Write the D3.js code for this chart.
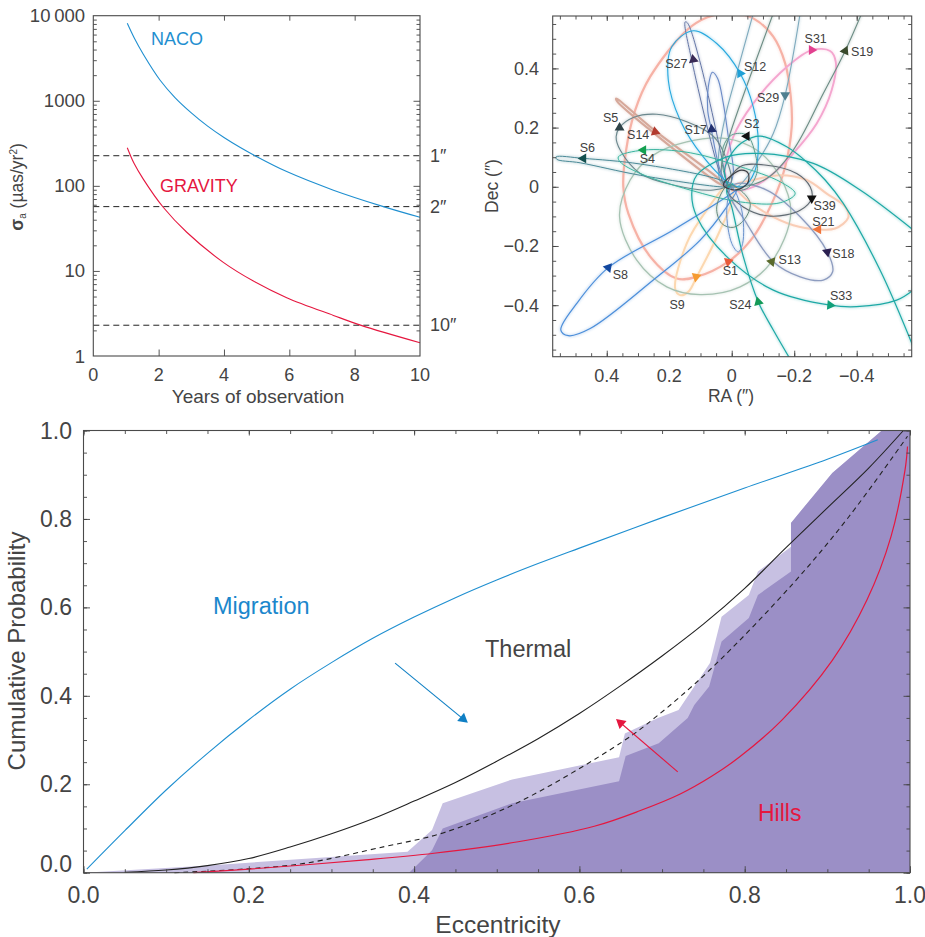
<!DOCTYPE html>
<html>
<head>
<script src="https://d3js.org/d3.v7.min.js" charset="utf-8"></script>
<style>
    body { margin: 0; background: #fff; }
    text { font-family: "Liberation Sans", sans-serif; fill: #444; }
</style>
</head>
<body>
<script>
    // top left panel: years, sigma
    var nacoYears = [1.04, 1.25, 1.53, 2.04, 2.5, 3, 3.5, 4, 4.5, 4.95, 5.92, 7.35, 8.88, 10];
    var nacoSigma = [8130, 5500, 3520, 1754, 1091, 721, 503, 370, 282, 226, 147, 89, 57, 42.7];
    var gravityYears = [1.04, 1.25, 1.53, 2.14, 2.86, 3.98, 4.9, 5.92, 7.35, 8.2, 10];
    var gravitySigma = [281, 183, 120, 56, 28.5, 12.6, 7.6, 4.85, 3.0, 2.29, 1.43];
    var radiusLevels = [226, 57, 2.3];
    var radiusLabels = ["1\u2033", "2\u2033", "10\u2033"];
    var sigmaTicks = [1, 10, 100, 1000, 10000];
    var sigmaTickLabels = ["1", "10", "100", "1000", "10\u2009000"];
    var yearTicks = [0, 2, 4, 6, 8, 10];

    // top right panel: orbits as [RA, Dec]
    var orbitS8 = [[0,-.023],[.187,-.146],[.395,-.273],[.496,-.394],[.547,-.484],[.523,-.503],[.453,-.479],[.251,-.315],[.101,-.18],[.016,-.068],[-.016,-.011]];
    var orbitS1 = [[.176,-.31],[.112,-.304],[.011,-.253],[-.069,-.169],[-.133,-.045],[-.171,.068],[-.192,.203],[-.189,.304],[-.171,.417],[-.133,.507],[-.069,.569],[.005,.588],[.08,.572],[.144,.529],[.261,.372],[.309,.259],[.338,.124],[.347,0],[.331,-.09],[.261,-.236]];
    var orbitS14 = [[.37,.298],[.245,.189],[.037,.023],[.02,.003],[.037,.009],[.245,.178],[.366,.288]];
    var orbitS27 = [[.149,.557],[.128,.428],[.032,.028],[.016,0],[.021,.039],[.103,.428],[.142,.554]];
    var orbitS17 = [[.062,.387],[.075,.338],[.077,.259],[.066,.197],[.037,.056],[.011,.003],[-.005,.045],[.011,.169],[.027,.282],[.045,.366]];
    var orbitS12 = [[.123,.527],[.048,.484],[-.027,.383],[-.069,.27],[-.085,.146],[-.075,.056],[-.037,0],[.005,.011],[.091,.101],[.165,.225],[.203,.36],[.192,.473]];
    var orbitS2 = [[-.048,.175],[-.075,.113],[-.08,.045],[-.048,-.006],[0,-.006],[.027,.056],[.027,.135],[0,.175]];
    var orbitS5 = [[.359,.2],[.315,.234],[.24,.245],[.144,.22],[.059,.171],[.016,.09],[.003,.011],[.059,-.011],[.187,.006],[.293,.045],[.357,.124],[.37,.169]];
    var orbitS6 = [[.562,.101],[.475,.096],[.293,.077],[.037,.023],[0,0],[.037,0],[.293,.039],[.485,.081],[.56,.093]];
    var orbitS4 = [[.363,.101],[.283,.124],[.133,.115],[-.027,.068],[-.155,.017],[-.203,-.023],[-.155,-.054],[-.027,-.051],[.133,-.011],[.293,.045],[.357,.084]];
    var orbitS13 = [[.359,-.101],[.325,.023],[.251,.107],[.144,.152],[.016,.163],[-.08,.124],[-.155,.034],[-.189,-.09],[-.128,-.253],[-.027,-.338],[.101,-.364],[.208,-.338],[.304,-.248]];
    var orbitS9 = [[.181,-.344],[.165,-.366],[.139,-.355],[.112,-.304],[.037,-.146],[-.005,-.023],[.016,0],[.08,-.079],[.144,-.191]];
    var orbitS24 = [[-.189,-.586],[-.133,-.484],[-.085,-.389],[-.037,-.236],[0,-.068],[.016,-.011],[-.005,.011]];
    var orbitS33 = [[-.587,-.344],[-.528,-.383],[-.4,-.405],[-.315,-.4],[-.133,-.349],[.016,-.236],[.112,-.101],[.128,-.023],[.112,.039],[.016,.101],[-.08,.113],[-.261,.079],[-.411,-.011],[-.581,-.146]];
    var orbitOuter = [[.011,0],[.023,.056],[0,.113],[-.037,.152],[-.091,.171],[-.176,.135],[-.24,.084],[-.299,.023],[-.357,-.056],[-.475,-.282],[-.581,-.541]];
    var orbitS19 = [[-.416,.586],[-.363,.459],[-.293,.315],[-.197,.124],[-.112,.028],[-.027,0],[.027,.011],[.032,.079],[.005,.18],[-.133,.586]];
    var orbitS29 = [[-.219,.586],[-.171,.31],[-.133,.18],[-.085,.09],[-.016,0],[.032,.011],[.043,.09],[.021,.236],[-.016,.383],[-.069,.586]];
    var orbitS31 = [[-.256,.462],[-.315,.459],[-.333,.422],[-.32,.327],[-.272,.214],[-.197,.113],[-.133,.045],[-.069,0],[-.005,-.011],[.021,.045],[-.005,.169],[-.069,.282],[-.176,.405]];
    var orbitS21 = [[-.027,-.023],[-.112,-.09],[-.197,-.13],[-.277,-.144],[-.331,-.141],[-.373,-.104],[-.363,-.068],[-.304,-.023],[-.24,.023],[-.155,.039],[-.069,.023],[-.011,.006]];
    var orbitS18 = [[-.306,-.22],[-.323,-.287],[-.293,-.315],[-.219,-.304],[-.133,-.253],[-.048,-.124],[.011,-.011],[-.016,.011],[-.112,-.011],[-.219,-.101]];
    var orbitS39 = [[-.256,-.039],[-.219,-.079],[-.123,-.099],[-.037,-.068],[.016,-.006],[-.027,.068],[-.112,.073],[-.208,.045],[-.251,0]];
    var orbitInnerA = [[.011,.006],[.048,-.068],[.032,-.124],[-.005,-.137],[-.043,-.107],[-.059,-.056],[-.027,-.011]];
    var orbitInnerB = [[.027,.006],[0,.039],[-.032,.056],[-.053,.045],[-.05,.011],[-.011,-.011]];
    var orbitInnerC = [[0,0],[-.032,-.079],[-.035,-.191],[-.021,-.22],[0,-.191],[.016,-.079]];

    var starNames = ["S31","S19","S27","S12","S29","S5","S14","S17","S2","S6","S4","S8","S1","S9","S13","S24","S33","S18","S21","S39"];
    var starRA  = [-.256,-.363,.123,-.027,-.171,.359,.245,.064,-.048,.475,.283,.395,.011,.114,-.128,-.085,-.315,-.306,-.277,-.256];
    var starDec = [.462,.459,.43,.383,.31,.2,.186,.194,.171,.096,.124,-.273,-.253,-.304,-.253,-.389,-.4,-.22,-.144,-.039];
    var raTicks = [0.4, 0.2, 0, -0.2, -0.4];
    var decTicks = [-0.4, -0.2, 0, 0.2, 0.4];

    // bottom panel: eccentricity, cumulative probability
    var migrationE = [.004,.05,.1,.15,.2,.25,.3,.35,.4,.45,.5,.55,.6,.7,.8,.9,.961];
    var migrationP = [.008,.095,.187,.27,.346,.415,.475,.53,.578,.622,.662,.699,.734,.803,.87,.935,.979];
    var thermalE = [.05,.1,.15,.2,.25,.3,.35,.4,.45,.5,.55,.6,.65,.7,.75,.8,.85,.9,.95,.992];
    var thermalP = [.001,.006,.016,.032,.058,.088,.122,.162,.204,.252,.303,.36,.423,.49,.562,.643,.735,.825,.915,1];
    var dashedE = [.11,.2,.267,.364,.435,.527,.652,.691,.758,.859,.926,.997];
    var dashedP = [0,.009,.021,.059,.09,.16,.296,.35,.459,.655,.805,.987];
    var hillsE = [.133,.2,.341,.424,.526,.618,.673,.722,.76,.794,.845,.906,.948,.977,.994,.997];
    var hillsP = [0,.008,.029,.044,.07,.105,.14,.178,.218,.262,.345,.48,.617,.76,.911,.964];
    var lightE = [0,.156,.392,.4217,.4346,.5187,.648,.655,.695,.72,.758,.772,.805,.816,.856,.856,.906,.966,1,1];
    var lightP = [0,.017,.0475,.0965,.157,.211,.261,.315,.35,.368,.474,.579,.628,.681,.737,.791,.904,1,1,0];
    var darkE = [.394,.4217,.4346,.5187,.648,.656,.696,.731,.739,.757,.772,.805,.816,.856,.856,.906,.966,1,1];
    var darkP = [0,.051,.1,.157,.207,.264,.293,.35,.379,.421,.523,.576,.628,.681,.791,.904,1,1,0];
    var migrationArrow = [[.377,.474],[.465,.339]];
    var hillsArrow = [[.719,.228],[.6443,.3477]];
    var unitTicks = [0, 0.2, 0.4, 0.6, 0.8, 1];

    var svg = d3.select("body").append("svg").attr("width", 925).attr("height", 937);

    var defs = svg.append("defs");
    defs.append("filter").attr("id", "soft").append("feGaussianBlur").attr("stdDeviation", 0.4);
    defs.append("filter").attr("id", "softer").append("feGaussianBlur").attr("stdDeviation", 1.2);
    defs.append("clipPath").attr("id", "orbitClip").append("rect")
        .attr("x", 553).attr("y", 16).attr("width", 358.7).attr("height", 340.7);

    var INK = "#444", BLUE = "#1f8fd0", RED = "#e5173f";

    function pair(xs, ys) { return xs.map(function(v, i) { return [v, ys[i]]; }); }
    function range(a, b, step) {
        var out = [];
        for (var i = 0; a + i * step <= b + 1e-9; i++) out.push(+(a + i * step).toFixed(4));
        return out;
    }

    // ticks point inwards on all four sides
    function ticks(x, y, xMinor, xMajor, yMinor, yMajor, lenMinor, lenMajor) {
        var x0 = x.range()[0], x1 = x.range()[1], y0 = y.range()[0], y1 = y.range()[1];
        var g = svg.append("g");
        function place(axis, tx, ty) {
            var a = g.append("g").attr("transform", "translate(" + tx + "," + ty + ")")
                .call(axis.tickFormat(""));
            a.select(".domain").remove();
            a.selectAll("line").attr("stroke", "#444").attr("stroke-width", 0.9);
        }
        [[xMinor, lenMinor], [xMajor, lenMajor]].forEach(function(s) {
            place(d3.axisBottom(x).tickValues(s[0]).tickSize(-s[1]), 0, y0);
            place(d3.axisTop(x).tickValues(s[0]).tickSize(-Math.min(s[1], 5)), 0, y1);
        });
        [[yMinor, lenMinor], [yMajor, lenMajor]].forEach(function(s) {
            place(d3.axisLeft(y).tickValues(s[0]).tickSize(-s[1]), x0, 0);
            place(d3.axisRight(y).tickValues(s[0]).tickSize(-s[1]), x1, 0);
        });
        g.append("rect").attr("x", Math.min(x0, x1)).attr("y", y1)
            .attr("width", Math.abs(x1 - x0)).attr("height", y0 - y1)
            .attr("fill", "none").attr("stroke", "#4a4a4a").attr("stroke-width", 1.1);
    }

    function label(x, y, str, size, anchor, colour) {
        return svg.append("text").attr("x", x).attr("y", y).text(str)
            .attr("font-size", size).attr("text-anchor", anchor || "start")
            .style("fill", colour || INK);
    }

    //---- top left
    var xYears = d3.scaleLinear().domain([0, 10]).range([93.3, 420]);
    var ySigma = d3.scaleLog().domain([1, 10000]).range([356, 15.7]);
    var lineYears = d3.line().x(function(d) { return xYears(d[0]); })
        .y(function(d) { return ySigma(d[1]); }).curve(d3.curveCatmullRom.alpha(0.5));

    radiusLevels.forEach(function(v, i) {
        svg.append("line").attr("x1", xYears(0)).attr("x2", xYears(10))
            .attr("y1", ySigma(v)).attr("y2", ySigma(v))
            .attr("stroke", "#222").attr("stroke-width", 1).attr("stroke-dasharray", "6,4");
        label(xYears(10) + 10, ySigma(v) + 6, radiusLabels[i], 18);
    });
    svg.append("path").attr("d", lineYears(pair(nacoYears, nacoSigma))).attr("fill", "none").attr("stroke", BLUE).attr("stroke-width", 1.1);
    svg.append("path").attr("d", lineYears(pair(gravityYears, gravitySigma))).attr("fill", "none").attr("stroke", RED).attr("stroke-width", 1.1);

    var sigmaMinor = [];
    [1, 10, 100, 1000].forEach(function(k) { d3.range(2, 10).forEach(function(m) { sigmaMinor.push(k * m); }); });
    ticks(xYears, ySigma, [], yearTicks.slice(1, -1), sigmaMinor, sigmaTicks.slice(1, -1), 3.5, 6.5);

    sigmaTicks.forEach(function(v, i) { label(85, ySigma(v) + 6.5, sigmaTickLabels[i], 18.5, "end"); });
    yearTicks.forEach(function(v) { label(xYears(v), 380.5, v, 18, "middle"); });
    label(258, 403, "Years of observation", 19, "middle");
    label(151, 45, "NACO", 18, "start", BLUE);
    label(160, 191.7, "GRAVITY", 18, "start", RED);

    var sigmaTitle = svg.append("text").attr("transform", "translate(23,187) rotate(-90)")
        .attr("text-anchor", "middle").attr("font-size", 17.5);
    sigmaTitle.append("tspan").text("\u03c3").attr("font-weight", "bold");
    sigmaTitle.append("tspan").text("a").attr("font-size", 10).attr("dy", 3);
    sigmaTitle.append("tspan").text(" (\u00b5as/yr").attr("dy", -3);
    sigmaTitle.append("tspan").text("2").attr("font-size", 10).attr("dy", -6);
    sigmaTitle.append("tspan").text(")").attr("dy", 6);

    //---- top right
    var xRA = d3.scaleLinear().domain([0.573, -0.576]).range([552.7, 911.7]);
    var yDec = d3.scaleLinear().domain([-0.574, 0.577]).range([356.7, 16]);
    var orbitPoint = d3.line().x(function(d) { return xRA(d[0]); }).y(function(d) { return yDec(d[1]); });

    var orbitStyles = [
        { pts: orbitS1,  closed: true,  colour: "#f6b2a6", width: 2.2 },
        { pts: orbitS9,  closed: true,  colour: "#fcd8b0", width: 2 },
        { pts: orbitS21, closed: true,  colour: "#f9cdb6", width: 2 },
        { pts: orbitS31, closed: true,  colour: "#f4a6cf", width: 1.9 },
        { pts: orbitS14, closed: true,  colour: "#d6a99b", width: 2.2 },
        { pts: orbitS13, closed: true,  colour: "#a6c2b2", width: 1.3 },
        { pts: orbitS8,  closed: true,  colour: "#4d8fda", width: 1.2 },
        { pts: orbitS18, closed: true,  colour: "#8d9cbf", width: 1.3 },
        { pts: orbitS29, closed: false, colour: "#7eaabd", width: 1.1 },
        { pts: orbitS19, closed: false, colour: "#6d8d85", width: 1.1 },
        { pts: orbitS27, closed: true,  colour: "#6577a6", width: 1 },
        { pts: orbitS17, closed: true,  colour: "#6a8ac6", width: 1.1 },
        { pts: orbitS12, closed: true,  colour: "#27a8de", width: 1.1 },
        { pts: orbitS5,  closed: true,  colour: "#6b878d", width: 1.1 },
        { pts: orbitS6,  closed: true,  colour: "#4b8a97", width: 1 },
        { pts: orbitS4,  closed: true,  colour: "#3cb4a0", width: 1 },
        { pts: orbitS2,  closed: true,  colour: "#5c9a8d", width: 1 },
        { pts: orbitS39, closed: true,  colour: "#606a72", width: 1.1 },
        { pts: orbitS24, closed: false, colour: "#1fa9a6", width: 1.2 },
        { pts: orbitS33, closed: false, colour: "#1fa9a6", width: 1.2 },
        { pts: orbitOuter, closed: false, colour: "#1fa9a6", width: 1.2 },
        { pts: orbitInnerA, closed: true, colour: "#63897a", width: 1 },
        { pts: orbitInnerB, closed: true, colour: "#3d3f45", width: 1.2 },
        { pts: orbitInnerC, closed: true, colour: "#6a92cc", width: 1 }
    ];

    var orbitGroup = svg.append("g").attr("clip-path", "url(#orbitClip)");
    var halos = orbitGroup.append("g").attr("filter", "url(#softer)").attr("opacity", 0.22);
    var lines = orbitGroup.append("g").attr("filter", "url(#soft)");
    orbitStyles.forEach(function(o) {
        var curve = o.closed ? d3.curveCatmullRomClosed.alpha(0.5) : d3.curveCatmullRom.alpha(0.5);
        var d = orbitPoint.curve(curve)(o.pts);
        halos.append("path").attr("d", d).attr("fill", "none").attr("stroke", o.colour).attr("stroke-width", o.width + 2);
        lines.append("path").attr("d", d).attr("fill", "none").attr("stroke", o.colour).attr("stroke-width", o.width);
    });

    // marker colour, rotation and label offset per star, same order as starNames
    var starStyles = [
        ["#e2408f", 90, 4, -11], ["#3a4a2c", 25, 17, 1], ["#3a2a55", -10, -17, 4], ["#1fa0d6", -30, 15, -7],
        ["#4f7f90", 180, -17, 3], ["#2f4348", -120, -9, -10], ["#b23a2e", 110, -17, 3], ["#23306f", -5, -16, 0],
        ["#111111", 150, 5, -13], ["#14514f", -90, 4, -11], ["#14a050", -90, 4, 9], ["#11479f", 40, 12, 7],
        ["#e85a3a", 70, 2, 9], ["#f59a30", 70, -19, 28], ["#5a6a2c", 40, 18, -2], ["#129a57", -15, -18, 3],
        ["#10a07a", 95, 11, -10], ["#2a1f50", 170, 16, 2], ["#f0743a", -90, 5, -8], ["#111111", 60, 13, 7]
    ];
    var triangle = d3.symbol().type(d3.symbolTriangle).size(42);
    starNames.forEach(function(name, i) {
        var s = starStyles[i], px = xRA(starRA[i]), py = yDec(starDec[i]);
        svg.append("path").attr("d", triangle()).attr("fill", s[0])
            .attr("transform", "translate(" + px + "," + py + ") rotate(" + s[1] + ")");
        label(px + s[2], py + s[3] + 4.4, name, 12.5, "middle", "#404040");
    });

    ticks(xRA, yDec, range(-0.55, 0.55, 0.05), raTicks, range(-0.55, 0.55, 0.05), decTicks, 3.5, 6);

    function signed(v) { return v === 0 ? "0" : (v < 0 ? "\u2212" : "") + Math.abs(v).toFixed(1); }
    raTicks.forEach(function(v) { label(xRA(v), 382, signed(v), 18, "middle"); });
    decTicks.forEach(function(v) { label(539, yDec(v) + 6.4, signed(v), 18, "end"); });
    label(731, 402, "RA (\u2033)", 17.5, "middle");
    svg.append("text").attr("transform", "translate(498,186) rotate(-90)").attr("text-anchor", "middle")
        .attr("font-size", 17.5).text("Dec (\u2033)");

    //---- bottom
    var xEcc = d3.scaleLinear().domain([0, 1]).range([83.5, 910]);
    var yProb = d3.scaleLinear().domain([0, 1]).range([872.7, 430.5]);
    var poly = d3.line().x(function(d) { return xEcc(d[0]); }).y(function(d) { return yProb(d[1]); });
    var smooth = d3.line().x(function(d) { return xEcc(d[0]); }).y(function(d) { return yProb(d[1]); })
        .curve(d3.curveCatmullRom.alpha(0.5));

    svg.append("path").attr("d", poly(pair(lightE, lightP)) + "Z").attr("fill", "#c7c0e2");
    svg.append("path").attr("d", poly(pair(darkE, darkP)) + "Z").attr("fill", "#9b8fc6");

    function curve(xs, ys, colour, dash, width) {
        svg.append("path").attr("d", smooth(pair(xs, ys))).attr("fill", "none")
            .attr("stroke", colour).attr("stroke-width", width || 1.1).attr("stroke-dasharray", dash || null);
    }
    curve(migrationE, migrationP, BLUE);
    curve(thermalE, thermalP, "#222");
    curve(dashedE, dashedP, "#222", "5,4");
    curve(hillsE, hillsP, RED, null, 1.2);

    function arrow(a, colour) {
        var x0 = xEcc(a[0][0]), y0 = yProb(a[0][1]), x1 = xEcc(a[1][0]), y1 = yProb(a[1][1]);
        var rad = Math.atan2(y1 - y0, x1 - x0);
        // pull the head back so its point lands on the end of the line
        var hx = x1 - 6.2 * Math.cos(rad), hy = y1 - 6.2 * Math.sin(rad);
        svg.append("line").attr("x1", x0).attr("y1", y0).attr("x2", hx).attr("y2", hy)
            .attr("stroke", colour).attr("stroke-width", 1.1);
        svg.append("path").attr("d", d3.symbol().type(d3.symbolTriangle).size(50)())
            .attr("fill", colour)
            .attr("transform", "translate(" + hx + "," + hy + ") rotate(" + (rad * 180 / Math.PI + 90) + ")");
    }
    arrow(migrationArrow, "#0f7fc4");
    arrow(hillsArrow, RED);

    ticks(xEcc, yProb, range(0, 1, 0.05), unitTicks, range(0, 1, 0.05), unitTicks, 3.5, 6.5);

    unitTicks.forEach(function(v) {
        label(xEcc(v), 903, v.toFixed(1), 23, "middle");
        label(72, yProb(v) + (v === 0 ? -1 : 8), v.toFixed(1), 23, "end");
    });
    label(498, 933, "Eccentricity", 24.5, "middle");
    svg.append("text").attr("transform", "translate(25,651) rotate(-90)").attr("text-anchor", "middle")
        .attr("font-size", 24).text("Cumulative Probability");
    label(213, 614, "Migration", 23.5, "start", "#1b87cc");
    label(485, 656.7, "Thermal", 23.5);
    label(758, 821, "Hills", 23, "start", RED);
</script>
</body>
</html>
